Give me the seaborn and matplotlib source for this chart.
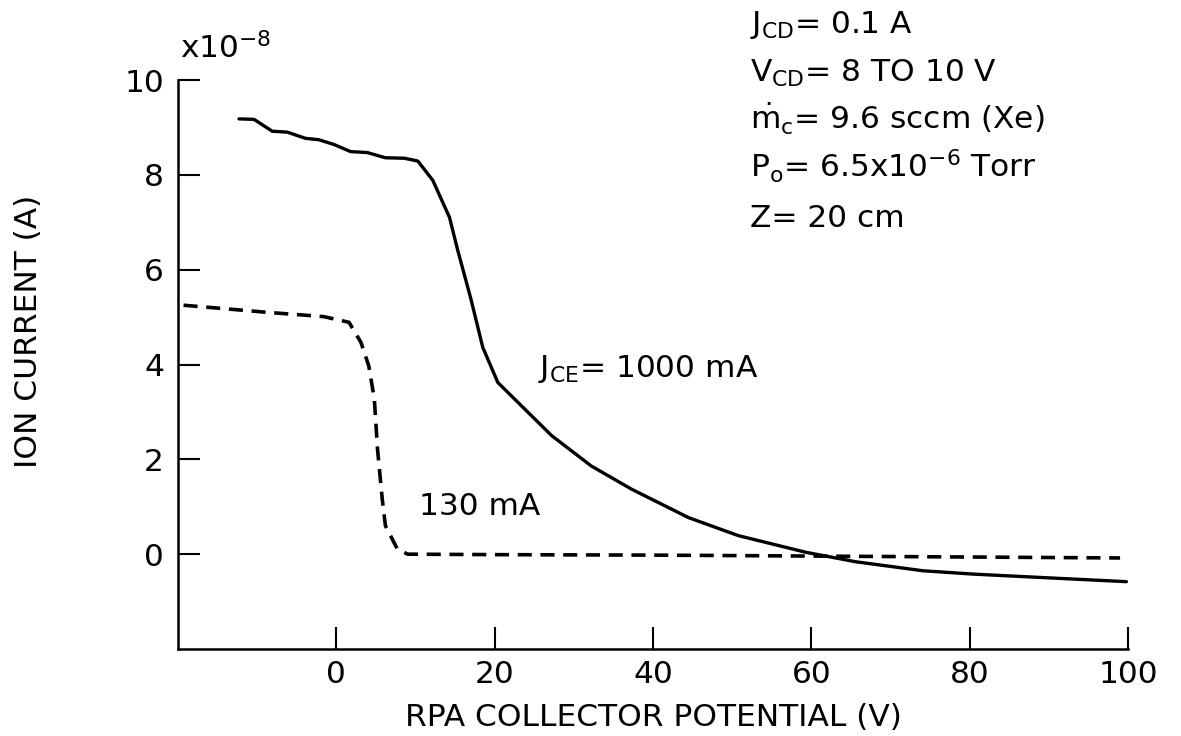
import pandas as pd
import seaborn as sns
import matplotlib.pyplot as plt

# J_CE = 1000 mA curve (ion current in units of 1e-8 A)
hi_v = [-12.3, -10.4, -8.1, -6.2, -3.9, -2.2, -0.3, 1.8, 3.9, 6.2, 8.6, 10.3,
        12.2, 14.3, 15.3, 17.0, 18.5, 20.4, 23.8, 27.2, 32.2, 37.3, 44.5,
        50.8, 59.3, 65.6, 74.1, 80.4, 88.8, 99.8]
hi_i = [9.18, 9.17, 8.92, 8.90, 8.77, 8.74, 8.64, 8.49, 8.47, 8.36, 8.35, 8.29,
        7.88, 7.10, 6.43, 5.38, 4.36, 3.62, 3.06, 2.50, 1.86, 1.37, 0.77,
        0.39, 0.04, -0.16, -0.35, -0.42, -0.49, -0.58]

# J_CE = 130 mA curve
lo_v = [-19.3, -8.7, -1.6, 1.6, 3.1, 4.1, 4.8, 5.2, 5.8, 6.2, 7.7, 9.0,
        20.0, 40.0, 60.0, 80.0, 99.0]
lo_i = [5.25, 5.10, 5.01, 4.89, 4.47, 3.97, 3.27, 2.22, 1.16, 0.60, 0.11, 0.0,
        -0.01, -0.02, -0.04, -0.06, -0.08]

x_ticks = [0, 20, 40, 60, 80, 100]
y_ticks = [0, 2, 4, 6, 8, 10]

info_lines = [r"$\mathregular{J_{CD}}$= 0.1 A",
              r"$\mathregular{V_{CD}}$= 8 TO 10 V",
              r"$\mathregular{\dot{m}_c}$= 9.6 sccm (Xe)",
              r"$\mathregular{P_o}$= 6.5x10$\mathregular{^{-6}}$ Torr",
              "Z= 20 cm"]
info_base = [33, 82, 130, 177, 227]

FS = 22.5

sns.set_style("ticks")
plt.rcParams['font.family'] = ['DejaVu Sans']
plt.rcParams['mathtext.default'] = 'regular'
plt.rcParams['font.size'] = FS
plt.rcParams['text.color'] = 'black'
plt.rcParams['axes.labelcolor'] = 'black'

df_hi = pd.DataFrame({'V': hi_v, 'I': hi_i})
df_lo = pd.DataFrame({'V': lo_v, 'I': lo_i})

fig = plt.figure(figsize=(11.81, 7.36), dpi=100)
ax = fig.add_axes([178 / 1181, 1 - 649 / 736, (1128 - 178) / 1181, (649 - 80) / 736])

sns.lineplot(data=df_hi, x='V', y='I', ax=ax, color='black', linewidth=2.4,
             estimator=None, sort=False)
sns.lineplot(data=df_lo, x='V', y='I', ax=ax, color='black', linewidth=2.6,
             estimator=None, sort=False, linestyle=(0, (3.9, 2.4)))

ax.set_xlim(-20, 100)
ax.set_ylim(-2, 10)
ax.set_xticks(x_ticks)
ax.set_yticks(y_ticks)
ax.tick_params(direction='in', length=16, width=1.5, labelsize=FS, colors='black')
ax.tick_params(axis='x', pad=8)
ax.tick_params(axis='y', pad=10)
for side in ['top', 'right']:
    ax.spines[side].set_visible(False)
for side in ['left', 'bottom']:
    ax.spines[side].set_linewidth(1.8)
    ax.spines[side].set_color('black')

ax.set_xlabel('RPA COLLECTOR POTENTIAL (V)', fontsize=FS, labelpad=10)
ax.set_ylabel('ION CURRENT (A)', fontsize=FS)
ax.yaxis.set_label_coords(-0.142, (649 - 331) / 569)

ax.text(25.5, 3.73, r"$\mathregular{J_{CE}}$= 1000 mA", fontsize=FS, va='baseline')
ax.text(10.5, 0.83, "130 mA", fontsize=FS, va='baseline')

fig.text(180 / 1181, 1 - 58 / 736, r"x10$\mathregular{^{-8}}$", fontsize=FS, va='baseline')

for line, base in zip(info_lines, info_base):
    fig.text(750 / 1181, 1 - base / 736, line, fontsize=FS, va='baseline')

fig.savefig('out.png', dpi=100)
